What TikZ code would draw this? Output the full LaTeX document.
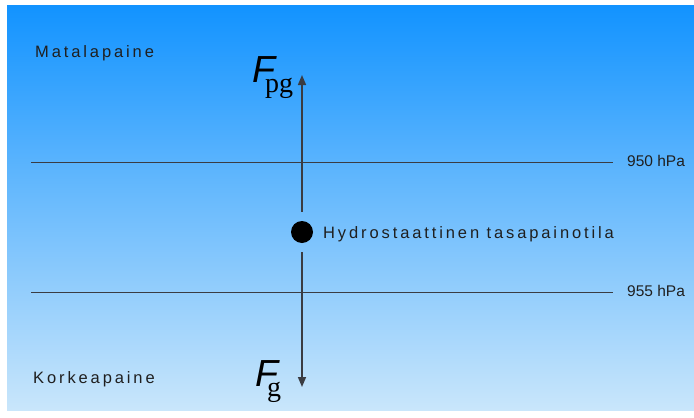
\documentclass[tikz,border=0pt]{standalone}
\usepackage{fontspec}
\setsansfont{Liberation Sans}
\newfontfamily\spacedfont[LetterSpace=17.5]{Liberation Sans}
\newfontfamily\timesfont{Liberation Serif}
\usepackage{tikz}
\usetikzlibrary{positioning,arrows.meta}
\usepackage{xcolor}
\definecolor{skytop}{RGB}{18,147,255}
\definecolor{skybottom}{RGB}{201,230,251}
\definecolor{inkgray}{RGB}{58,60,66}

\begin{document}
\begin{tikzpicture}[x=1pt, y=-1pt, every node/.style={inner sep=0pt},
region/.style={font=\fontsize{16.5}{18}\spacedfont, text=black!88, anchor=base west},
level/.style={font=\fontsize{15.5}{18}\sffamily, text=black!88, anchor=base west},
isobar/.style={draw=inkgray, line width=0.8pt},
force/.style={draw=inkgray, line width=1.6pt, -{Triangle[length=10pt, width=8pt]}},
forcelabel/.style={font=\fontsize{37.7}{40}\sffamily\itshape, text=black, anchor=base west}]
\useasboundingbox (0,0) rectangle (694,418);
\fill[top color=skytop, bottom color=skybottom] (7,5) rectangle (694,410);

\node[region] (low) at (35,57.7) {Matalapaine};
\node[region] (high) at (33,383.3) {Korkeapaine};

\coordinate (w950) at (31,162);
\coordinate (e950) at (613,162);
\coordinate (w955) at (31,292);
\coordinate (e955) at (613,292);
\node[level] (p950) at (627,166.7) {950 hPa};
\node[level] (p955) at (627,296.7) {955 hPa};
\draw[isobar] (w950) -- (e950);
\draw[isobar] (w955) -- (e955);

\node[circle, fill=black, minimum size=22pt] (eq) at (302,232) {};
\node[region] (hydro) at (323,238.3) {Hydrostaattinen tasapainotila};

\coordinate (uptip) at (302,75);
\coordinate (downtip) at (302,387);
\draw[force, shorten <=9pt] (eq.north) -- (uptip);
\draw[force, shorten <=9pt] (eq.south) -- (downtip);

\node[forcelabel] (fpg) at (252,82) {F\kern-10pt\raisebox{-10.5pt}{\fontsize{28}{30}\timesfont\upshape pg}};
\node[forcelabel] (fg) at (255,386.7) {F\kern-11pt\raisebox{-10pt}{\fontsize{28}{30}\timesfont\upshape g}};
\end{tikzpicture}
\end{document}
